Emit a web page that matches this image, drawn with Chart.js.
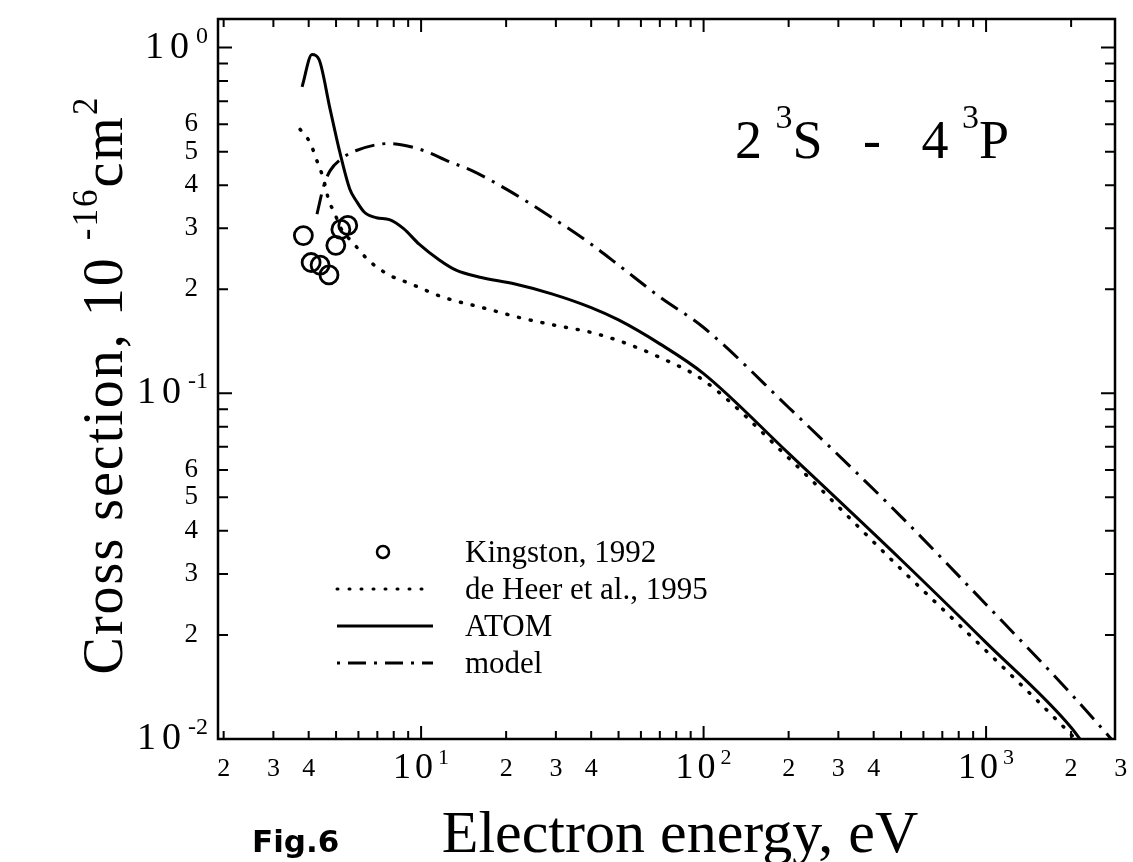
<!DOCTYPE html>
<html>
<head>
<meta charset="utf-8">
<title>2 3S - 4 3P excitation cross section</title>
<script src="https://cdn.jsdelivr.net/npm/chart.js@4.4.0/dist/chart.umd.min.js"></script>
<style>
  body { margin: 0; background: #fff; }
  #wrap { position: relative; width: 1133px; height: 862px; }
</style>
</head>
<body>
<div id="wrap"><canvas id="myChartSection"></canvas></div>
<script>
// Kingston, 1992 (measured points)
var kingstonE = [3.83, 4.08, 4.39, 4.72, 4.99, 5.2, 5.5];
var kingstonQ = [0.286, 0.239, 0.235, 0.22, 0.268, 0.298, 0.306];

// de Heer et al., 1995
var deHeerE = [3.73, 4.05, 4.28, 4.5, 4.72, 4.92, 5.2, 5.73, 6.5, 7.7, 9.1, 11.9, 16.9, 22.7, 29, 40, 50, 70, 100, 200, 500, 1000, 2000, 2600];
var deHeerQ = [0.58, 0.53, 0.47, 0.42, 0.36, 0.335, 0.3, 0.273, 0.243, 0.22, 0.208, 0.19, 0.176, 0.165, 0.158, 0.15, 0.142, 0.127, 0.109, 0.065, 0.031, 0.018, 0.0103, 0.0082];

// ATOM
var atomE = [3.79, 4.11, 4.35, 4.76, 5.15, 5.59, 5.9, 6.3, 6.95, 7.72, 8.65, 9.84, 11.6, 13.3, 16, 21.5, 29, 40, 50, 70, 100, 200, 500, 1000, 2000, 2400];
var atomQ = [0.77, 0.955, 0.924, 0.665, 0.5, 0.39, 0.36, 0.334, 0.322, 0.318, 0.3, 0.27, 0.243, 0.227, 0.217, 0.207, 0.194, 0.177, 0.163, 0.139, 0.114, 0.067, 0.033, 0.019, 0.0108, 0.0088];

// model
var modelE = [4.28, 4.53, 4.76, 5.24, 5.9, 7.72, 10.2, 12.5, 15.2, 20.3, 28.1, 40, 50, 70, 100, 200, 500, 1000, 2000, 3000];
var modelQ = [0.33, 0.40, 0.44, 0.478, 0.504, 0.528, 0.504, 0.469, 0.44, 0.387, 0.328, 0.27, 0.235, 0.19, 0.155, 0.091, 0.044, 0.0245, 0.0135, 0.0093];

// axis ranges and labelled ticks
var xMin = 1.91, xMax = 2860, yMin = 0.01, yMax = 1.21;
var xTickValues = [2, 3, 4, 10, 20, 30, 40, 100, 200, 300, 400, 1000, 2000, 3000];
var xTickLabels = ['2', '3', '4', '10^1', '2', '3', '4', '10^2', '2', '3', '4', '10^3', '2', '3'];
var yTickValues = [1, 0.6, 0.5, 0.4, 0.3, 0.2, 0.1, 0.06, 0.05, 0.04, 0.03, 0.02, 0.01];
var yTickLabels = ['10^0', '6', '5', '4', '3', '2', '10^-1', '6', '5', '4', '3', '2', '10^-2'];

var SERIF = '"Liberation Serif", "DejaVu Serif", serif';

function pairs(xs, ys) {
    return xs.map(function (x, i) { return {x: x, y: ys[i]}; });
}

// every 1..9 x 10^n between lo and hi
function logTicks(lo, hi) {
    var out = [];
    for (var e = Math.floor(Math.log10(lo)); e <= Math.ceil(Math.log10(hi)); e++) {
        for (var m = 1; m <= 9; m++) {
            var v = m * Math.pow(10, e);
            if (v >= lo && v <= hi) out.push({v: v, major: m === 1});
        }
    }
    return out;
}

// "10^1" -> 10 with raised 1
function drawPow(c, text, x, y, align, size, gap) {
    var parts = text.split('^');
    var supSize = Math.round(size * 0.62);
    var sp = parts[1] ? gap + 'px' : '0px';
    c.font = size + 'px ' + SERIF;
    c.letterSpacing = sp;
    var w1 = c.measureText(parts[0]).width;
    var w2 = 0;
    if (parts[1]) {
        c.font = supSize + 'px ' + SERIF;
        c.letterSpacing = '0px';
        w2 = c.measureText(parts[1]).width + 1;
    }
    var x0 = align === 'right' ? x - w1 - w2 : align === 'center' ? x - (w1 + w2) / 2 : x;
    c.textAlign = 'left';
    c.font = size + 'px ' + SERIF;
    c.letterSpacing = sp;
    c.fillText(parts[0], x0, y);
    if (parts[1]) {
        c.font = supSize + 'px ' + SERIF;
        c.letterSpacing = '0px';
        c.fillText(parts[1], x0 + w1 + 1, y - size * 0.3);
    }
    c.letterSpacing = '0px';
}

// a row of pieces, each {t, size, dy}, laid out left to right
function drawRun(c, pieces, x, y, align, spacing) {
    var total = 0;
    c.letterSpacing = (spacing || 0) + 'px';
    pieces.forEach(function (p) {
        c.font = p.size + 'px ' + SERIF;
        p.w = c.measureText(p.t).width;
        total += p.w;
    });
    var cx = align === 'center' ? x - total / 2 : x;
    c.textAlign = 'left';
    pieces.forEach(function (p) {
        c.font = p.size + 'px ' + SERIF;
        c.fillText(p.t, cx, y + (p.dy || 0));
        cx += p.w;
    });
    c.letterSpacing = '0px';
}

var framePlugin = {
    id: 'frame',
    afterDatasetsDraw: function (chart) {
        var c = chart.ctx, a = chart.chartArea;
        var xs = chart.scales.x, ys = chart.scales.y;
        c.save();
        c.strokeStyle = '#000';
        c.fillStyle = '#000';

        // box
        c.lineWidth = 2.5;
        c.strokeRect(a.left, a.top, a.right - a.left, a.bottom - a.top);

        // inward ticks on all four sides
        c.lineWidth = 2;
        logTicks(xMin, xMax).forEach(function (t) {
            var px = xs.getPixelForValue(t.v);
            var len = t.major ? 13 : 8;
            c.beginPath();
            c.moveTo(px, a.bottom); c.lineTo(px, a.bottom - len);
            c.moveTo(px, a.top); c.lineTo(px, a.top + len);
            c.stroke();
        });
        logTicks(yMin, yMax).forEach(function (t) {
            var py = ys.getPixelForValue(t.v);
            var len = t.major ? 14 : 10;
            c.beginPath();
            c.moveTo(a.left, py); c.lineTo(a.left + len, py);
            c.moveTo(a.right, py); c.lineTo(a.right - len, py);
            c.stroke();
        });

        // tick labels
        c.textBaseline = 'middle';
        xTickValues.forEach(function (v, i) {
            var lab = xTickLabels[i];
            var big = lab.indexOf('^') >= 0;
            drawPow(c, lab, xs.getPixelForValue(v), a.bottom + 30, 'center', big ? 36 : 26, 4);
        });
        yTickValues.forEach(function (v, i) {
            var lab = yTickLabels[i];
            var big = lab.indexOf('^') >= 0;
            drawPow(c, lab, a.left - (big ? 10 : 20), ys.getPixelForValue(v), 'right', big ? 38 : 27, 6);
        });

        // axis titles
        c.textBaseline = 'alphabetic';
        drawRun(c, [{t: 'Electron energy, eV', size: 60}], 680, 852, 'center');
        c.font = 'bold 31px "DejaVu Sans", sans-serif';
        c.fillText('Fig.6', 252, 852);

        c.save();
        c.translate(122, 385);
        c.rotate(-Math.PI / 2);
        drawRun(c, [
            {t: 'Cross section, 10 ', size: 56},
            {t: '-16', size: 35, dy: -25},
            {t: 'cm', size: 56},
            {t: '2', size: 35, dy: -25}
        ], 0, 0, 'center', 2);
        c.restore();

        // transition label
        drawRun(c, [
            {t: '2 ', size: 54},
            {t: '3', size: 34, dy: -30},
            {t: 'S', size: 54},
            {t: '   -   ', size: 54},
            {t: '4 ', size: 54},
            {t: '3', size: 34, dy: -30},
            {t: 'P', size: 54}
        ], 735, 158, 'left');

        // legend
        var lx0 = 337, lx1 = 433, tx = 465;
        var rows = [552, 589, 626, 663];
        var names = chart.data.datasets.map(function (d) { return d.label; });
        c.lineWidth = 2.5;
        c.beginPath();
        c.arc(383, rows[0], 6, 0, Math.PI * 2);
        c.stroke();
        c.lineCap = 'round';
        c.lineWidth = 3;
        c.setLineDash([1, 11]);
        c.beginPath(); c.moveTo(lx0, rows[1]); c.lineTo(lx1 - 8, rows[1]); c.stroke();
        c.setLineDash([]);
        c.lineCap = 'butt';
        c.beginPath(); c.moveTo(lx0, rows[2]); c.lineTo(lx1, rows[2]); c.stroke();
        c.setLineDash([3, 8, 18, 8]);
        c.beginPath(); c.moveTo(lx0, rows[3]); c.lineTo(lx1, rows[3]); c.stroke();
        c.setLineDash([]);
        c.textBaseline = 'middle';
        names.forEach(function (n, i) {
            drawRun(c, [{t: n, size: 31}], tx, rows[i] + 2, 'left');
        });
        c.restore();
    }
};

var ctx = document.getElementById('myChartSection').getContext('2d');
var myChartSection = new Chart(ctx, {
    type: 'line',
    data: {
        datasets: [{
            label: 'Kingston, 1992',
            data: pairs(kingstonE, kingstonQ),
            showLine: false,
            pointStyle: 'circle',
            pointRadius: 9,
            pointBorderWidth: 2.8,
            pointBorderColor: '#000',
            pointBackgroundColor: 'rgba(0,0,0,0)'
        }, {
            label: 'de Heer et al., 1995',
            data: pairs(deHeerE, deHeerQ),
            borderColor: '#000',
            borderWidth: 3.5,
            borderDash: [1, 11],
            borderCapStyle: 'round',
            pointRadius: 0,
            cubicInterpolationMode: 'monotone'
        }, {
            label: 'ATOM',
            data: pairs(atomE, atomQ),
            borderColor: '#000',
            borderWidth: 3,
            pointRadius: 0,
            cubicInterpolationMode: 'monotone'
        }, {
            label: 'model',
            data: pairs(modelE, modelQ),
            borderColor: '#000',
            borderWidth: 3,
            borderDash: [20, 8, 3, 8],
            pointRadius: 0,
            cubicInterpolationMode: 'monotone'
        }]
    },
    options: {
        responsive: true,
        maintainAspectRatio: false,
        animation: false,
        layout: {
            padding: {left: 210, top: 19, right: 18, bottom: 115}
        },
        plugins: {
            legend: {display: false},
            tooltip: {enabled: false}
        },
        scales: {
            x: {
                type: 'logarithmic',
                min: xMin,
                max: xMax,
                ticks: {display: false},
                grid: {display: false},
                border: {display: false}
            },
            y: {
                type: 'logarithmic',
                min: yMin,
                max: yMax,
                ticks: {display: false},
                grid: {display: false},
                border: {display: false}
            }
        }
    },
    plugins: [framePlugin]
});
</script>
</body>
</html>
